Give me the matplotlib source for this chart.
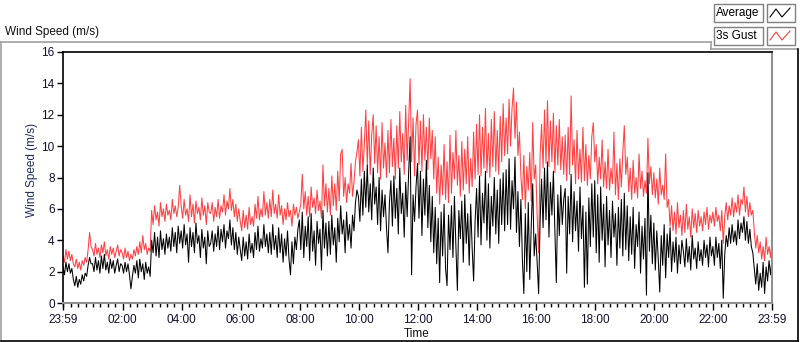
import numpy as np
import matplotlib
matplotlib.use('Agg')
import matplotlib.pyplot as plt
from matplotlib.lines import Line2D
from matplotlib.patches import Rectangle

plt.rcParams['font.family'] = ['Liberation Sans', 'DejaVu Sans']

# --- Data: 3-minute samples starting at 23:59 (one row per hour) ---
gust = [
    3.0, 2.6, 3.4, 2.8, 3.3, 2.7, 3.1, 2.5, 2.3, 2.8, 2.2, 2.6, 2.1, 2.7, 2.4, 2.9, 2.6, 3.4, 4.5, 3.6,
    3.4, 3.0, 3.8, 3.1, 3.5, 2.9, 3.7, 3.2, 3.9, 3.0, 3.4, 2.8, 3.6, 3.1, 3.5, 2.9, 3.3, 3.7, 3.0, 3.4,
    3.2, 2.8, 3.5, 2.9, 3.3, 2.7, 3.1, 2.8, 3.4, 3.0, 3.6, 3.1, 3.9, 3.2, 4.3, 3.4, 3.8, 3.1, 3.5, 3.3,
    5.9, 5.0, 6.2, 5.3, 5.8, 4.9, 6.4, 5.5, 6.0, 5.2, 6.3, 5.6, 5.9, 5.3, 6.6, 5.7, 6.2, 5.5, 6.1, 7.5,
    6.2, 5.4, 6.6, 5.6, 6.0, 5.2, 6.9, 5.5, 6.3, 5.1, 6.5, 5.7, 6.1, 5.3, 6.7, 5.6, 6.2, 5.0, 6.4, 5.8,
    5.7, 6.4, 5.2, 6.1, 5.5, 6.6, 5.4, 6.2, 5.8, 6.9, 5.6, 6.5, 6.0, 7.3, 5.9, 6.6, 5.5, 6.3, 5.2, 6.0,
    5.2, 4.6, 5.9, 4.8, 5.6, 4.7, 6.1, 5.0, 5.5, 4.9, 6.3, 5.4, 6.8, 5.3, 6.0, 5.5, 7.1, 5.6, 6.4, 5.4,
    6.6, 5.5, 7.2, 5.7, 6.3, 5.4, 6.9, 5.6, 6.2, 5.0, 6.0, 5.3, 6.4, 5.5, 5.9, 4.9, 6.3, 5.6, 6.1, 5.4,
    5.8, 6.3, 8.2, 6.0, 7.1, 5.6, 6.8, 5.5, 7.4, 6.1, 6.7, 5.7, 7.2, 5.9, 6.5, 5.4, 8.8, 6.2, 7.6, 5.8,
    7.3, 5.6, 8.1, 6.2, 7.6, 5.9, 8.4, 6.5, 9.5, 9.8, 6.8, 8.0, 6.4, 7.6, 7.0, 8.9, 6.8, 7.7, 9.0, 9.6,
    10.4, 8.1, 11.2, 8.4, 10.1, 12.3, 8.8, 11.6, 8.2, 10.7, 12.0, 8.9, 11.3, 8.3, 10.6, 7.9, 11.5, 8.6, 10.2, 8.0,
    11.0, 8.3, 11.7, 8.7, 10.5, 7.9, 11.3, 8.6, 12.2, 9.0, 10.8, 8.2, 12.6, 9.1, 11.5, 14.3, 9.0, 11.8, 8.1, 11.4,
    12.3, 8.8, 11.6, 8.4, 12.0, 9.1, 11.2, 8.5, 11.8, 9.2, 11.0, 7.9, 10.6, 7.0, 9.3, 6.3, 8.8, 6.9, 10.1, 6.6,
    9.0, 6.4, 10.7, 7.0, 9.6, 7.9, 11.0, 7.5, 9.4, 6.8, 10.3, 7.2, 9.8, 7.6, 10.6, 7.0, 9.2, 7.4, 10.9, 7.9,
    11.4, 8.2, 12.0, 8.1, 11.2, 8.6, 12.4, 8.3, 10.8, 8.0, 11.7, 8.7, 12.2, 8.4, 11.0, 8.2, 11.9, 9.0, 12.7, 9.4,
    11.8, 9.5, 13.0, 10.0, 12.4, 13.7, 10.5, 12.8, 9.4, 10.9, 8.1, 6.6, 9.4, 6.0, 8.7, 7.2, 9.6, 6.5, 11.5, 7.9,
    8.8, 5.6, 3.2, 9.4, 11.4, 8.6, 12.3, 8.9, 12.9, 8.7, 11.6, 9.0, 12.1, 8.3, 11.3, 8.8, 11.7, 8.5, 10.6, 8.2,
    10.7, 7.8, 11.2, 8.2, 13.2, 8.8, 10.4, 7.6, 11.0, 7.9, 9.8, 7.7, 11.2, 7.8, 10.1, 7.5, 9.4, 7.9, 10.6, 11.5,
    9.0, 10.1, 7.6, 9.3, 7.9, 10.4, 7.4, 9.0, 7.3, 9.8, 7.2, 8.6, 7.6, 10.9, 6.9, 8.9, 6.6, 9.2, 7.4, 9.6,
    11.3, 8.2, 9.3, 7.1, 8.6, 6.6, 9.1, 7.0, 8.0, 6.7, 9.5, 7.3, 8.4, 6.8, 7.8, 7.0, 10.5, 7.6, 8.7, 6.9,
    8.3, 6.7, 7.9, 6.3, 8.6, 6.9, 7.5, 6.6, 9.5, 6.1, 6.6, 4.9, 6.2, 4.6, 5.8, 4.4, 6.4, 4.8, 5.6, 4.3,
    5.9, 4.5, 6.3, 4.7, 5.5, 4.2, 6.0, 4.8, 5.7, 4.5, 5.9, 4.9, 5.5, 4.6, 5.8, 5.0, 6.1, 4.7, 5.6, 5.1,
    5.8, 4.9, 6.1, 5.2, 5.6, 4.6, 5.9, 3.8, 5.5, 6.4, 5.3, 6.2, 5.6, 6.7, 5.5, 6.4, 5.8, 6.9, 5.6, 6.6,
    6.3, 7.4, 5.8, 6.8, 5.5, 6.4, 5.6, 5.9, 4.6, 3.5, 4.3, 3.2, 3.9, 2.8, 3.6, 2.7, 4.2, 3.1, 3.6, 2.9,
    3.9,
]

average = [
    2.3, 1.8, 2.6, 2.0, 2.5, 1.9, 2.2, 1.5, 1.1, 1.7, 1.0, 1.5, 1.2, 1.8, 1.4, 1.9, 1.7, 2.4, 2.9, 2.5,
    2.5, 2.0, 2.9, 2.1, 2.7, 1.9, 3.0, 2.2, 3.1, 2.1, 2.6, 1.9, 2.8, 2.2, 2.7, 1.9, 2.4, 2.8, 2.0, 2.5,
    2.4, 1.9, 2.6, 2.0, 2.5, 1.8, 0.9, 1.7, 2.4, 1.9, 2.7, 1.6, 2.8, 2.0, 2.5, 1.5, 2.6, 1.9, 2.3, 1.7,
    4.0, 3.2, 4.5, 3.0, 4.2, 2.9, 4.6, 3.4, 4.1, 3.1, 4.4, 3.5, 4.2, 3.3, 4.8, 3.6, 4.5, 3.2, 4.9, 3.8,
    4.6, 3.5, 5.0, 3.7, 4.4, 2.6, 4.8, 3.6, 4.5, 3.2, 5.1, 3.8, 4.3, 2.9, 4.7, 3.5, 4.2, 2.5, 4.6, 3.6,
    3.8, 4.6, 3.3, 4.4, 3.6, 4.9, 3.4, 4.7, 3.9, 5.0, 3.5, 4.6, 4.1, 5.3, 3.7, 4.8, 3.4, 4.5, 3.1, 4.2,
    3.4, 2.7, 4.2, 3.0, 3.9, 2.8, 4.4, 3.2, 3.8, 2.9, 4.5, 3.4, 4.9, 3.3, 4.1, 3.5, 5.0, 3.6, 4.4, 3.2,
    4.5, 3.1, 5.0, 3.4, 4.3, 2.9, 4.8, 3.2, 4.4, 2.6, 4.1, 3.0, 4.6, 2.8, 1.8, 3.9, 2.5, 4.2, 3.4, 4.7,
    5.3, 3.4, 5.8, 2.9, 4.9, 3.6, 5.5, 2.7, 5.7, 3.3, 4.6, 2.4, 5.2, 3.8, 4.7, 2.1, 5.9, 3.5, 5.1, 3.0,
    5.2, 3.1, 5.6, 3.7, 4.8, 2.6, 5.4, 3.9, 6.2, 4.4, 5.3, 3.2, 5.8, 4.0, 5.0, 3.5, 5.6, 4.6, 6.4, 7.2,
    6.8, 5.2, 7.9, 5.6, 8.4, 6.1, 8.8, 5.8, 7.6, 5.3, 8.6, 6.3, 7.4, 5.0, 8.0, 4.6, 7.2, 5.5, 6.9, 4.8,
    3.2, 6.4, 7.8, 4.9, 8.1, 5.4, 7.3, 4.4, 8.6, 5.7, 7.0, 4.2, 7.7, 5.5, 8.3, 10.6, 1.8, 6.9, 5.2, 7.4,
    8.9, 5.4, 8.4, 4.3, 7.9, 5.6, 9.1, 4.8, 7.5, 3.9, 6.8, 3.2, 6.1, 2.5, 5.4, 1.3, 5.8, 3.0, 6.3, 2.2,
    1.1, 5.6, 3.4, 6.2, 2.9, 6.8, 3.6, 0.8, 5.9, 4.1, 6.5, 2.6, 6.9, 3.8, 5.7, 2.4, 6.3, 3.5, 1.4, 5.2,
    7.3, 4.2, 8.1, 3.7, 7.0, 5.1, 8.4, 4.0, 7.6, 3.5, 6.8, 4.9, 8.0, 4.4, 7.2, 3.8, 7.9, 5.0, 8.3, 4.6,
    8.5, 5.0, 9.2, 4.7, 7.8, 6.0, 9.3, 4.5, 7.1, 3.6, 6.6, 2.8, 0.6, 5.7, 2.0, 6.4, 1.5, 4.9, 7.6, 3.0,
    4.4, 2.6, 0.6, 5.2, 7.9, 4.8, 8.6, 5.3, 9.0, 4.2, 7.7, 5.6, 8.4, 4.6, 1.3, 6.9, 4.3, 7.5, 5.0, 6.6,
    7.3, 1.9, 6.8, 4.4, 8.2, 3.9, 7.1, 4.6, 6.5, 3.3, 7.4, 4.1, 6.2, 1.0, 5.8, 1.2, 6.7, 3.6, 7.6, 4.2,
    7.8, 3.2, 6.9, 2.6, 7.4, 4.0, 6.3, 2.3, 6.8, 3.7, 5.9, 2.9, 6.5, 4.2, 5.7, 2.4, 6.1, 3.5, 6.6, 3.0,
    7.0, 3.4, 6.2, 2.7, 5.5, 3.1, 6.1, 2.2, 5.0, 3.6, 5.8, 1.9, 4.9, 2.8, 5.4, 0.5, 8.3, 3.3, 5.6, 2.5,
    5.1, 2.1, 4.6, 2.8, 0.7, 4.3, 2.4, 5.0, 1.6, 4.4, 2.9, 4.8, 2.0, 3.9, 2.6, 4.2, 1.9, 3.7, 2.5, 4.0,
    3.3, 2.3, 4.1, 2.6, 3.6, 2.1, 4.3, 2.8, 3.5, 2.2, 3.9, 2.7, 3.4, 2.4, 4.0, 2.9, 3.7, 2.3, 4.2, 3.0,
    3.6, 2.4, 4.2, 2.9, 3.8, 2.2, 4.0, 0.3, 3.1, 4.3, 3.6, 4.8, 3.8, 5.0, 3.9, 4.6, 3.7, 5.3, 4.1, 5.1,
    4.5, 5.5, 4.0, 5.2, 3.8, 4.7, 3.6, 3.2, 2.2, 1.2, 2.5, 0.8, 1.9, 1.0, 2.6, 0.6, 2.3, 1.4, 2.7, 1.8,
    2.8,
]

tick_labels = ['23:59', '02:00', '04:00', '06:00', '08:00', '10:00', '12:00',
               '14:00', '16:00', '18:00', '20:00', '22:00', '23:59']
tick_minutes = [0, 121, 241, 361, 481, 601, 721, 841, 961, 1081, 1201, 1321, 1440]
series_names = ['Average', '3s Gust']
series_colors = ['black', '#ff4040']

W, H = 800, 342
minutes = np.arange(len(gust)) * 3


def fx(px):
    return px / W


def fy(py):
    return 1 - py / H


fig = plt.figure(figsize=(W / 100, H / 100), dpi=100)
fig.patch.set_facecolor('white')

# outer panel frame (LabVIEW-like 3D border)
fig.add_artist(Line2D([fx(1), fx(711)], [fy(42), fy(42)], color='#a0a0a0', lw=1.2))
fig.add_artist(Line2D([fx(711), fx(711)], [fy(42), fy(49)], color='#a0a0a0', lw=1.2))
fig.add_artist(Line2D([fx(711), fx(797)], [fy(49), fy(49)], color='#a0a0a0', lw=1.2))
fig.add_artist(Line2D([fx(1), fx(1)], [fy(42), fy(341)], color='#a0a0a0', lw=1.2))
fig.add_artist(Line2D([fx(1), fx(798)], [fy(341), fy(341)], color='black', lw=1.2))
fig.add_artist(Line2D([fx(798), fx(798)], [fy(49), fy(341)], color='black', lw=1.2))

fig.text(fx(5), fy(32), 'Wind Speed (m/s)', fontsize=8.5, color='#101010',
         ha='left', va='center')

ax = fig.add_axes([fx(63), fy(303), fx(772) - fx(63), fy(52) - fy(303)])
ax.plot(minutes, gust, color=series_colors[1], lw=0.75)
ax.plot(minutes, average, color=series_colors[0], lw=0.75)

ax.set_xlim(0, 1440)
ax.set_ylim(0, 16)
ax.set_yticks(range(0, 17, 2))
ax.set_xticks(tick_minutes)
ax.set_xticklabels(tick_labels)
ax.set_xticks(np.arange(1, 1440, 15), minor=True)

for side in ['top', 'left']:
    ax.spines[side].set_color('black')
    ax.spines[side].set_linewidth(1.2)
for side in ['bottom', 'right']:
    ax.spines[side].set_color('#909090')
    ax.spines[side].set_linewidth(1.5)

ax.tick_params(axis='y', length=4, width=1, pad=2, labelsize=8.5,
               labelcolor='#101030', color='black')
ax.tick_params(axis='x', which='major', length=5, width=1, pad=3,
               labelsize=8.5, labelcolor='#101030', color='black')
ax.tick_params(axis='x', which='minor', length=3, width=1, color='black')

fig.text(fx(32), fy(170), 'Wind Speed (m/s)', rotation=90, fontsize=8.5,
         color='#1c2c5c', ha='center', va='center')
fig.text(fx(417), fy(334), 'Time', fontsize=8.5, color='#101010',
         ha='center', va='center')

# legend boxes
for i, (name, col) in enumerate(zip(series_names, series_colors)):
    top = 4 + i * 23
    fig.add_artist(Rectangle((fx(714), fy(top + 18)), fx(49), fy(0) - fy(18),
                             transform=fig.transFigure, facecolor='white',
                             edgecolor='#808080', lw=1.0))
    fig.add_artist(Rectangle((fx(767), fy(top + 18)), fx(28), fy(0) - fy(18),
                             transform=fig.transFigure, facecolor='white',
                             edgecolor='#808080', lw=1.0))
    fig.text(fx(716), fy(top + 9), name, fontsize=8.5, color='black',
             ha='left', va='center')
    zx = [770, 776, 782, 790]
    zy = [top + 13, top + 5, top + 13, top + 4]
    fig.add_artist(Line2D([fx(v) for v in zx], [fy(v) for v in zy],
                          color=col, lw=0.8))

fig.savefig('out.png', dpi=100)
